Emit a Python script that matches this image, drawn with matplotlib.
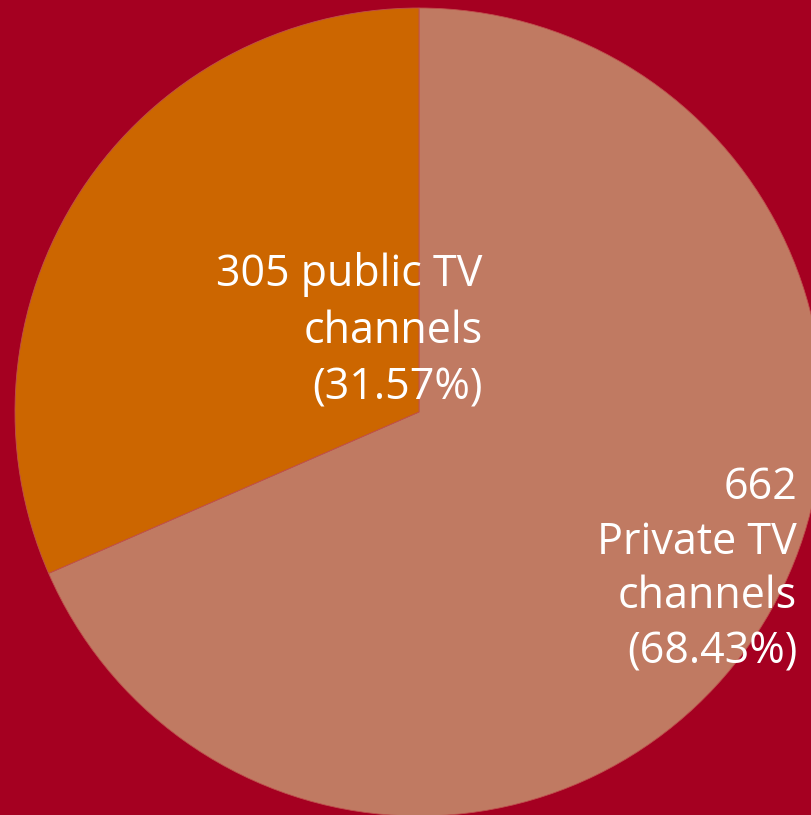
import matplotlib
matplotlib.use("Agg")
import matplotlib.pyplot as plt

# 数据
labels = ["662\nPrivate TV\nchannels\n(68.43%)", "305 public TV\nchannels\n(31.57%)"]
counts = [662, 305]
colors = ["#C07A62", "#CC6600"]
BG = "#A50021"

fig = plt.figure(figsize=(8.11, 8.15), dpi=100, facecolor=BG)
ax = fig.add_axes([0, 0, 1, 1])
ax.set_facecolor(BG)

wedges, _ = ax.pie(counts, colors=colors, startangle=90, counterclock=False,
                   radius=1.0, center=(0, 0),
                   wedgeprops=dict(edgecolor="#C0504D", linewidth=0.6))

# 像素映射: 圆心 (419, 412), 半径 404
ax.set_xlim(-419 / 404, (811 - 419) / 404)
ax.set_ylim((412 - 815) / 404, 412 / 404)
ax.set_aspect("auto")
ax.axis("off")

txt = dict(color="white", fontsize=31, family="Open Sans",
           ha="right", va="center", multialignment="right")
ax.text(0.158, 0.200, labels[1], linespacing=1.37, **txt)
ax.text(0.936, -0.391, labels[0], linespacing=1.30, **txt)

fig.savefig("out.png", dpi=100, facecolor=BG)
